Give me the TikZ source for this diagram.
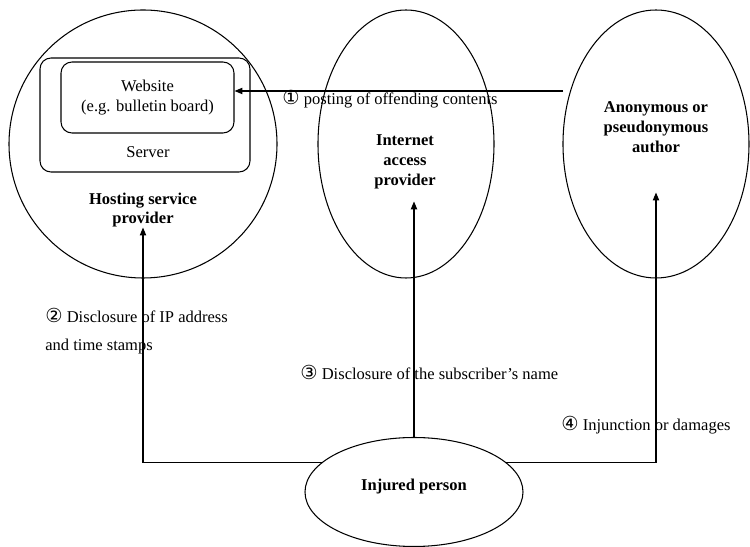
\documentclass[tikz,border=0pt]{standalone}
\usepackage{fontspec}
\setmainfont{Liberation Serif}
\newfontfamily\circfont{DejaVu Sans}
\usepackage{tikz}
\usetikzlibrary{arrows.meta, positioning, shapes.geometric}
\newcommand{\circnum}[1]{{\circfont\fontsize{11}{12}\selectfont #1}}

\begin{document}
\begin{tikzpicture}[
    every node/.style={font=\fontsize{9.4}{11.3}\selectfont},
    party/.style={ellipse, draw, line width=0.6pt, inner sep=0pt},
    box/.style={rectangle, rounded corners=0.22cm, draw, line width=0.6pt},
    title/.style={font=\fontsize{9.4}{11.3}\selectfont\bfseries, align=center},
    note/.style={anchor=west, inner sep=0pt, align=left},
    arrow/.style={line width=0.6pt, -{Triangle[length=4.5pt, width=3.6pt]}}
]
\useasboundingbox (0,0) rectangle (15,10.94);

% Parties
\node[party, circle, minimum size=5.36cm] (host) at (2.86,8.06) {};
\node[party, minimum width=3.52cm, minimum height=5.36cm] (iap) at (8.12,8.06) {};
\node[party, minimum width=3.72cm, minimum height=5.36cm] (author) at (13.12,8.06) {};
\node[party, minimum width=4.36cm, minimum height=2.18cm] (injured) at (8.28,1.1) {};

% Server and website
\node[box, minimum width=4.2cm, minimum height=2.28cm] (server) at (2.9,8.64) {};
\node[box, minimum width=3.46cm, minimum height=1.42cm, align=center] (web) at (2.95,8.99) {Website\\(e.g. bulletin board)};
\node (serverlbl) at (2.96,7.9) {Server};

% Titles
\node[title] (hostlbl) at (2.86,6.74) {Hosting service\\provider};
\node[title] (iaplbl) at (8.1,7.7) {Internet\\access\\provider};
\node[title] (authorlbl) at (13.12,8.4) {Anonymous or\\pseudonymous\\author};
\node[title] (injuredlbl) at (8.28,1.2) {Injured person};

% Arrows
\coordinate (post) at (11.26,9.12);
\draw[arrow] (post) -- (post -| web.east);
\draw[arrow] (injured.162) -| ([yshift=1.02cm]host.south);
\draw[arrow] (injured.north) -- ++(0,4.71);
\draw[arrow] (injured.18) -| ([yshift=1.72cm]author.south);

% Labels
\node[note] (postlbl) at (5.64,8.96) {\circnum{①} posting of offending contents};
\node[note] (iplbl) at (0.9,4.32) {\circnum{②} Disclosure of IP address\\[4.5pt]and time stamps};
\node[note] (namelbl) at (6.0,3.5) {\circnum{③} Disclosure of the subscriber's name};
\node[note] (damagelbl) at (11.22,2.44) {\circnum{④} Injunction or damages};

\end{tikzpicture}
\end{document}
